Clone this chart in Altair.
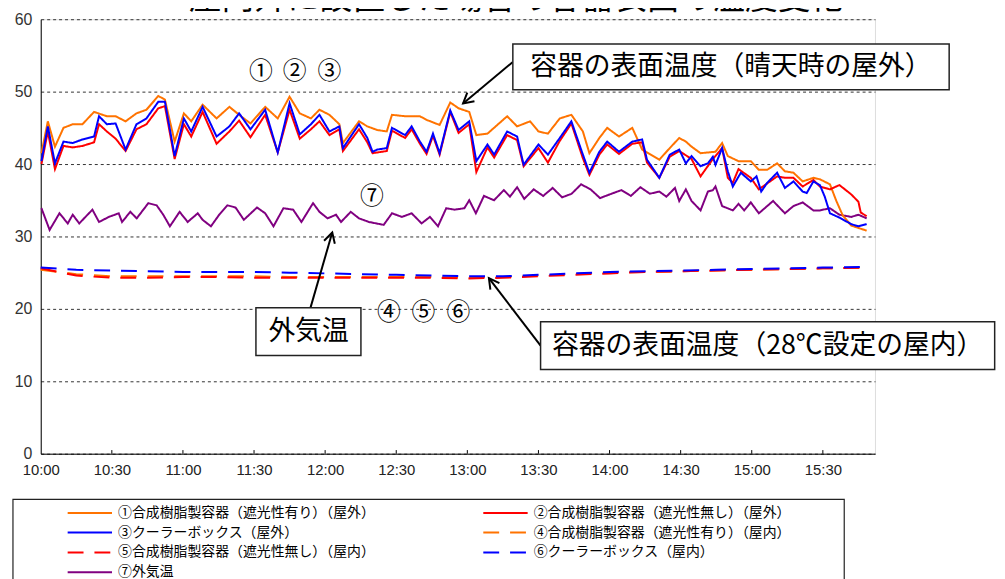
import altair as alt
import pandas as pd

# ---------------- data (minutes after 10:00, temperature °C) ----------------
SERIES = [
    "①合成樹脂製容器（遮光性有り）（屋外）",
    "②合成樹脂製容器（遮光性無し）（屋外）",
    "③クーラーボックス（屋外）",
    "④合成樹脂製容器（遮光性有り）（屋内）",
    "⑤合成樹脂製容器（遮光性無し）（屋内）",
    "⑥クーラーボックス（屋内）",
    "⑦外気温",
]
COLORS = ["#FF7300", "#FF0000", "#0000FF", "#FF7300", "#FF0000", "#0000FF", "#800080"]
DASHES = [[1, 0], [1, 0], [1, 0], [16, 11], [16, 11], [16, 11], [1, 0]]
WIDTHS = [2, 2, 2.2, 3, 3, 3, 2]

T1 = [0.3, 3, 6, 9.6, 13.5, 17.6, 22.5, 27.9, 31.6, 35.8, 40.4, 44.6, 49.6, 52.4, 56.5,
      60.4, 63.5, 68.3, 74.2, 79.6, 83.7, 88.5, 94.7, 100, 105, 109.3, 114, 117.6, 121.8,
      126, 127.5, 134.3, 137.8, 142, 146, 148.2, 153.75, 160, 162.8, 168.3, 172.8, 176.3,
      180.8, 183.8, 188.5, 196.8, 201, 206.5, 210, 214, 219, 223.9, 228.75, 231.5, 235.7,
      239, 244, 249.6, 253.75, 261, 265.4, 269.4, 272.2, 274.6, 278.4, 284.7, 287.5, 289.9,
      294.4, 299.6, 303, 306.5, 310.7, 314, 317.6, 321.5, 326, 328.75, 333, 335.7, 338.4,
      342, 348.5]
V1 = [41.5, 45.9, 42.4, 45.0, 45.5, 45.5, 47.2, 46.6, 46.6, 45.9, 47.0, 47.5, 49.4, 48.9, 43.1,
      47.0, 45.9, 48.2, 46.3, 47.9, 46.8, 45.6, 47.9, 46.3, 49.3, 47.0, 46.3, 47.5, 46.8,
      45.5, 42.9, 45.9, 45.2, 44.7, 44.5, 46.8, 46.6, 46.6, 46.1, 45.4, 48.5, 47.7,
      47.2, 44.0, 44.2, 46.6, 45.2, 45.9, 44.5, 44.2, 46.3, 46.8, 44.5, 41.5, 43.6,
      45.0, 43.8, 45.0, 42.0, 40.6, 42.2, 43.6, 43.1, 42.4, 41.5, 41.7, 42.9, 41.1,
      40.4, 40.4, 39.2, 39.2, 40.1, 39.0, 38.8, 37.6, 38.1, 37.9, 37.2, 34.9, 32.9,
      31.5, 30.8]

T2 = [0.3, 3, 6, 9.6, 13.5, 17.6, 22.5, 24.6, 27.9, 31.6, 35.8, 40.4, 44.6, 49.6, 52.4, 56.5,
      60.4, 63.5, 68.3, 74.2, 79.6, 83.7, 88.5, 94.7, 100, 105, 109.3, 114, 117.6, 121.8,
      126, 127.5, 134.3, 137.8, 140, 146, 148.2, 153.75, 156.5, 160, 162.8, 165.5, 168.3,
      172.8, 176.3, 180.8, 183.8, 188.5, 191.3, 196.8, 201, 203.75, 210, 214, 219, 223.9,
      228.75, 231.5, 235.7, 239, 244, 249.6, 253.75, 255.8, 261, 265.4, 269.4, 274.6, 278.4,
      283.6, 287.5, 289.9, 292, 294.4, 299.6, 303, 310.7, 314, 317.6, 321.5, 326, 328.75,
      333, 337, 342, 345, 346, 348.5]
V2 = [40.0, 44.5, 39.3, 42.5, 42.3, 42.5, 43.0, 45.5, 44.5, 43.5, 41.8, 44.8, 45.5, 47.7, 48.0, 40.7,
      45.5, 43.8, 47.2, 42.8, 44.5, 46.0, 43.7, 46.8, 41.6, 47.5, 43.5, 44.8, 45.9, 44.0,
      44.8, 41.8, 44.8, 43.0, 41.5, 41.8, 44.6, 43.6, 44.8, 42.8, 41.4, 43.9, 41.3,
      47.2, 44.3, 45.5, 38.9, 42.3, 40.9, 44.0, 43.3, 39.7, 42.2, 40.2, 43.2, 45.6,
      40.8, 38.5, 41.3, 42.7, 41.4, 42.8, 43.0, 40.2, 38.1, 41.0, 41.8, 40.7, 38.3,
      40.7, 42.2, 38.1, 37.4, 39.3, 38.1, 36.5, 38.3, 38.1, 38.1, 36.9, 37.8, 36.9,
      36.5, 37.1, 35.8, 34.8, 33.3, 32.8]

T3 = [0.3, 3, 6, 9.6, 13.5, 17.6, 22.5, 24.6, 27.9, 31.6, 35.8, 40.4, 44.6, 49.6, 52.4, 56.5,
      60.4, 63.5, 68.3, 74.2, 79.6, 83.7, 88.5, 94.7, 100, 105, 109.3, 114, 117.6, 121.8,
      126, 127.5, 134.3, 137.8, 140, 142, 146, 148.2, 153.75, 156.5, 160, 162.8, 165.5, 168.3,
      172.8, 176.3, 180.8, 183.8, 188.5, 191.3, 196.8, 201, 203.75, 210, 214, 219, 223.9,
      228.75, 231.5, 235.7, 239, 244, 249.6, 253.75, 255.8, 261, 265.4, 269.4, 272.2, 274.6,
      278.4, 281.5, 283.6, 284.7, 287.5, 289.9, 292, 295.4, 299.6, 302, 304, 306.5, 310.7,
      314, 317.6, 321.5, 323.2, 326, 328.75, 330.8, 333, 337, 342, 345, 348.5]
V3 = [40.4, 45.2, 40.1, 43.1, 42.9, 43.4, 43.8, 46.6, 45.5, 45.6, 42.0, 45.5, 46.3, 48.6, 48.6, 41.1,
      46.3, 44.5, 47.9, 43.8, 45.2, 47.0, 44.8, 47.5, 41.6, 48.4, 44.1, 45.5, 46.8, 44.5,
      45.2, 42.2, 45.5, 43.6, 41.7, 42.0, 42.2, 45.0, 44.0, 45.2, 43.1, 41.7, 44.2, 41.5,
      47.4, 44.7, 45.9, 40.4, 42.7, 41.3, 44.5, 43.8, 39.9, 42.7, 41.3, 43.6, 45.9,
      41.3, 38.8, 41.7, 43.1, 41.7, 43.1, 43.4, 40.6, 38.1, 41.3, 42.0, 40.1, 41.1,
      39.7, 40.1, 41.0, 39.9, 42.2, 39.0, 36.9, 38.8, 37.6, 38.3, 36.2, 37.4, 38.8,
      36.7, 37.6, 36.2, 36.0, 37.6, 37.1, 35.5, 33.2, 32.6, 31.7, 31.4, 31.7]

T_IN = [0, 15, 30, 45, 60, 75, 90, 105, 120, 135, 150, 165, 180, 195, 210, 225, 240, 255,
        270, 285, 300, 315, 330, 348.5]
V4 = [25.4, 24.8, 24.5, 24.5, 24.5, 24.5, 24.5, 24.4, 24.4, 24.4, 24.4, 24.4, 24.3, 24.4,
      24.6, 24.8, 25.0, 25.1, 25.2, 25.3, 25.4, 25.5, 25.6, 25.7]
V5 = [25.6, 24.6, 24.3, 24.3, 24.4, 24.4, 24.3, 24.3, 24.3, 24.3, 24.3, 24.3, 24.2, 24.3,
      24.5, 24.7, 24.9, 25.1, 25.2, 25.3, 25.4, 25.5, 25.6, 25.7]
V6 = [25.7, 25.4, 25.3, 25.2, 25.1, 25.1, 25.1, 25.0, 24.9, 24.8, 24.7, 24.6, 24.5, 24.5,
      24.7, 24.9, 25.1, 25.2, 25.3, 25.4, 25.5, 25.6, 25.7, 25.8]

T7 = [0.3, 3.75, 7.9, 11.4, 13.5, 16.25, 21.8, 24.6, 28.75, 32.9, 34.3, 37.8, 40.5, 45.4, 48.9,
      51.7, 54.5, 58.6, 62, 66.25, 68.3, 71.8, 75.3, 78.75, 82.2, 85.7, 91.25, 94.7, 98.2,
      102.4, 106.5, 110, 114.9, 117.6, 121, 124.6, 126.7, 130.8, 134.3, 138.5, 144.7, 148.2,
      152.4, 156.5, 160.7, 164.2, 167.6, 171.1, 174.6, 178.75, 180.8, 183.6, 187, 191.25,
      195.4, 198, 201, 204, 208, 212, 216, 220, 224, 228, 232, 236, 240, 245, 249, 253, 257,
      261, 264, 267.6, 269.4, 272.2, 274.6, 278.4, 281.5, 283.6, 284.7, 287.5, 292, 294.4,
      296.8, 299.6, 303, 309, 314, 317.6, 321.5, 326, 328.75, 333, 337, 342, 345, 348.5]
V7 = [33.9, 30.9, 33.2, 31.8, 33.0, 31.8, 33.7, 32.0, 32.7, 33.2, 32.0, 33.4, 32.5, 34.6, 34.3,
      33.0, 31.4, 33.4, 32.0, 33.2, 32.3, 31.4, 33.0, 34.3, 34.0, 32.3, 34.0, 33.2, 31.4,
      33.9, 33.7, 32.0, 34.6, 33.4, 32.5, 33.0, 32.0, 33.4, 32.5, 32.0, 31.6, 33.2,
      32.7, 33.2, 31.8, 32.7, 31.4, 33.9, 33.7, 33.9, 35.0, 33.2, 35.6, 35.0,
      36.4, 35.5, 36.8, 35.2, 36.5, 35.6, 36.7, 35.4, 35.9, 37.2, 36.5, 35.3, 35.8, 36.4, 35.6, 36.8, 35.9,
      36.2, 35.5, 36.7, 34.9, 36.5, 34.9, 33.6, 36.2, 36.4, 36.9, 34.2, 33.6, 34.5,
      33.6, 34.7, 33.2, 34.9, 33.2, 34.2, 34.7, 33.6, 33.6, 33.9, 33.0, 32.7, 33.0, 32.5]

TICK_MINUTES = [30, 60, 90, 120, 150, 180, 210, 240, 270, 300, 330]
Y_TICKS = [0, 10, 20, 30, 40, 50, 60]

# draw order: ⑦, indoor, then ①②③ on top
ORDERED = [(6, T7, V7), (3, T_IN, V4), (4, T_IN, V5), (5, T_IN, V6),
           (0, T1, V1), (1, T2, V2), (2, T3, V3)]
rows = []
for idx, ts, vs in ORDERED:
    for t, v in zip(ts, vs):
        rows.append({"series": SERIES[idx], "minute": t, "temp": v})
df = pd.DataFrame(rows)

JP = "Noto Sans CJK JP"
XDOM = [0, 352]

legend = alt.Legend(
    title=None, orient="none", direction="horizontal", legendX=26, legendY=491, columns=2,
    columnPadding=108, rowPadding=5, symbolType="stroke", symbolSize=2000,
    clipHeight=13, labelFont=JP, labelFontSize=14, labelColor="black",
    labelOffset=5, padding=0, labelLimit=420,
)

xscale = alt.Scale(domain=XDOM, nice=False, zero=False)
yscale = alt.Scale(domain=[0, 60], nice=False)

lines = alt.Chart(df).mark_line(interpolate="linear").encode(
    x=alt.X("minute:Q", scale=xscale,
            axis=alt.Axis(values=[0] + TICK_MINUTES, title=None, ticks=False, grid=False,
                          domainColor="black", domainWidth=1, labelFont="Liberation Sans",
                          labelFontSize=15, labelColor="#222", labelPadding=9, labelFlush=False,
                          labelExpr="(10 + floor(datum.value/60)) + ':' + (datum.value % 60 == 0 ? '00' : '30')")),
    y=alt.Y("temp:Q", scale=yscale,
            axis=alt.Axis(values=Y_TICKS, title=None, ticks=False, grid=True, gridDash=[3, 3],
                          gridColor="#333", gridWidth=1, domainColor="black", domainWidth=1,
                          labelFont="Liberation Sans", labelFontSize=16, labelColor="#333",
                          labelPadding=9)),
    color=alt.Color("series:N", scale=alt.Scale(domain=SERIES, range=COLORS), legend=legend),
    strokeDash=alt.StrokeDash("series:N", scale=alt.Scale(domain=SERIES, range=DASHES), legend=legend),
    strokeWidth=alt.StrokeWidth("series:N", scale=alt.Scale(domain=SERIES, range=WIDTHS), legend=legend),
    detail="series:N",
)

ticks = alt.Chart(pd.DataFrame({"minute": TICK_MINUTES})).mark_rule(color="black", strokeWidth=1).encode(
    x=alt.X("minute:Q", scale=xscale), y=alt.datum(0), y2=alt.datum(0.5)
)

one = pd.DataFrame({"k": [0]})


def box(x1, x2, y1, y2):
    return alt.Chart(one).mark_rect(fill="white", stroke="#222", strokeWidth=1.5).encode(
        x=alt.datum(x1), x2=alt.datum(x2), y=alt.datum(y1), y2=alt.datum(y2))


def label(txt, x, y, size, font=JP):
    return alt.Chart(one).mark_text(text=txt, font=font, fontSize=size, color="black",
                                    align="center", baseline="middle").encode(
        x=alt.datum(x), y=alt.datum(y))


def arrow(x1, y1, x2, y2, ang):
    shaft = alt.Chart(one).mark_rule(color="black", strokeWidth=2).encode(
        x=alt.datum(x1), y=alt.datum(y1), x2=alt.datum(x2), y2=alt.datum(y2))
    head = alt.Chart(one).mark_point(shape="M-0.55,1L0,0L0.55,1", size=420, filled=False,
                                     stroke="black", strokeWidth=2, angle=ang, opacity=1).encode(
        x=alt.datum(x2), y=alt.datum(y2))
    return shaft + head


title = alt.Chart(one).mark_text(text="屋内外に設置した場合の容器表面の温度変化", font=JP, fontSize=33,
                                 color="black", align="center", baseline="alphabetic").encode(
    x=alt.value(479), y=alt.value(-10))

legend_frame = alt.Chart(one).mark_rect(fill=None, stroke="#222", strokeWidth=1.2).encode(
    x=alt.value(-28), x2=alt.value(810), y=alt.value(484), y2=alt.value(620))

CIRCLED = [("①", 92.9, 52.74), ("②", 107.1, 52.74), ("③", 121.8, 52.74),
           ("⑦", 139.7, 35.5),
           ("④", 146.9, 19.45), ("⑤", 161.5, 19.45), ("⑥", 176.2, 19.45)]

layers = [legend_frame, lines, ticks]
layers += [label(t, x, y, 24) for t, x, y in CIRCLED]
layers += [
    arrow(199.2, 54.1, 178.2, 48.36, 230),
    arrow(113.8, 20.14, 123.0, 30.55, 16),
    arrow(210.9, 14.93, 189.1, 24.25, 324),
    box(199.2, 383.3, 56.58, 50.27),
    label("容器の表面温度（晴天時の屋外）", 291.2, 53.4, 27),
    box(90.8, 135.1, 20.14, 13.56),
    label("外気温", 113.0, 16.85, 27),
    box(210.9, 402.5, 18.22, 11.64),
    label("容器の表面温度（28℃設定の屋内）", 306.7, 14.93, 27),
    title,
]

chart = alt.layer(*layers).properties(
    width=841, height=438,
    autosize=alt.AutoSizeParams(type="none"),
    padding={"left": 33, "top": 9, "right": 123, "bottom": 124},
).configure_view(stroke=None).configure(background="white")

chart.save("out.html", embed_options={"renderer": "svg", "actions": False})
